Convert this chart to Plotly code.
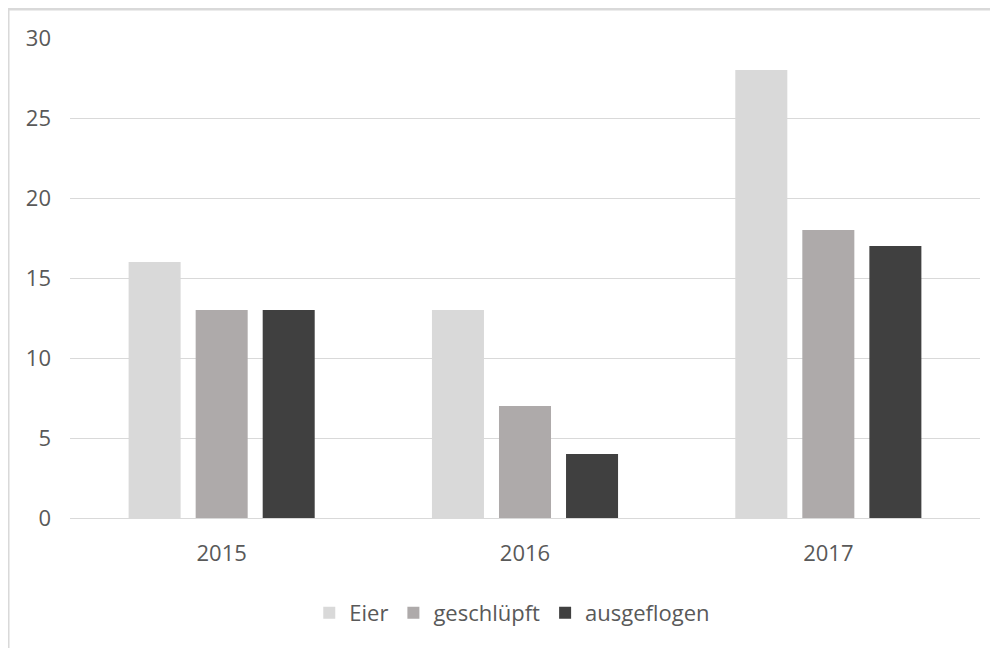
import plotly.graph_objects as go

years = ["2015", "2016", "2017"]
eier = [16, 13, 28]
geschluepft = [13, 7, 18]
ausgeflogen = [13, 4, 17]

series = [("Eier", eier, "#d9d9d9"), ("geschlüpft", geschluepft, "#aeaaaa"), ("ausgeflogen", ausgeflogen, "#404040")]

fig = go.Figure()
for name, vals, col in series:
    fig.add_trace(go.Bar(x=years, y=vals, name=name, marker=dict(color=col, line=dict(width=0))))

font = dict(family="Open Sans, Liberation Sans, sans-serif", size=22, color="#595959")
fig.update_layout(
    width=998, height=648,
    margin=dict(l=62, r=26, t=30, b=138),
    paper_bgcolor="white", plot_bgcolor="white",
    barmode="group", bargap=0.337, bargroupgap=0.224,
    font=font,
    showlegend=True,
    legend=dict(orientation="h", x=0.486, xanchor="center", y=-0.198, yanchor="middle",
                font=dict(size=22, color="#595959"), itemwidth=30, traceorder="normal"),
    xaxis=dict(showline=True, linecolor="#d9d9d9", linewidth=1, showgrid=False,
               ticks="", ticklabelstandoff=16, tickfont=dict(size=22)),
    yaxis=dict(range=[0, 30], dtick=5, showgrid=True, gridcolor="#d9d9d9", gridwidth=1,
               zeroline=False, showline=False, ticks="", ticklabelstandoff=18, tickfont=dict(size=22)),
    shapes=[dict(type="rect", xref="paper", yref="paper", x0=-0.0681, x1=1.1, y0=-0.4, y1=1.0604,
                 line=dict(color="#d9d9d9", width=3), fillcolor="rgba(0,0,0,0)", layer="below")],
)
fig.write_html("out.html")
